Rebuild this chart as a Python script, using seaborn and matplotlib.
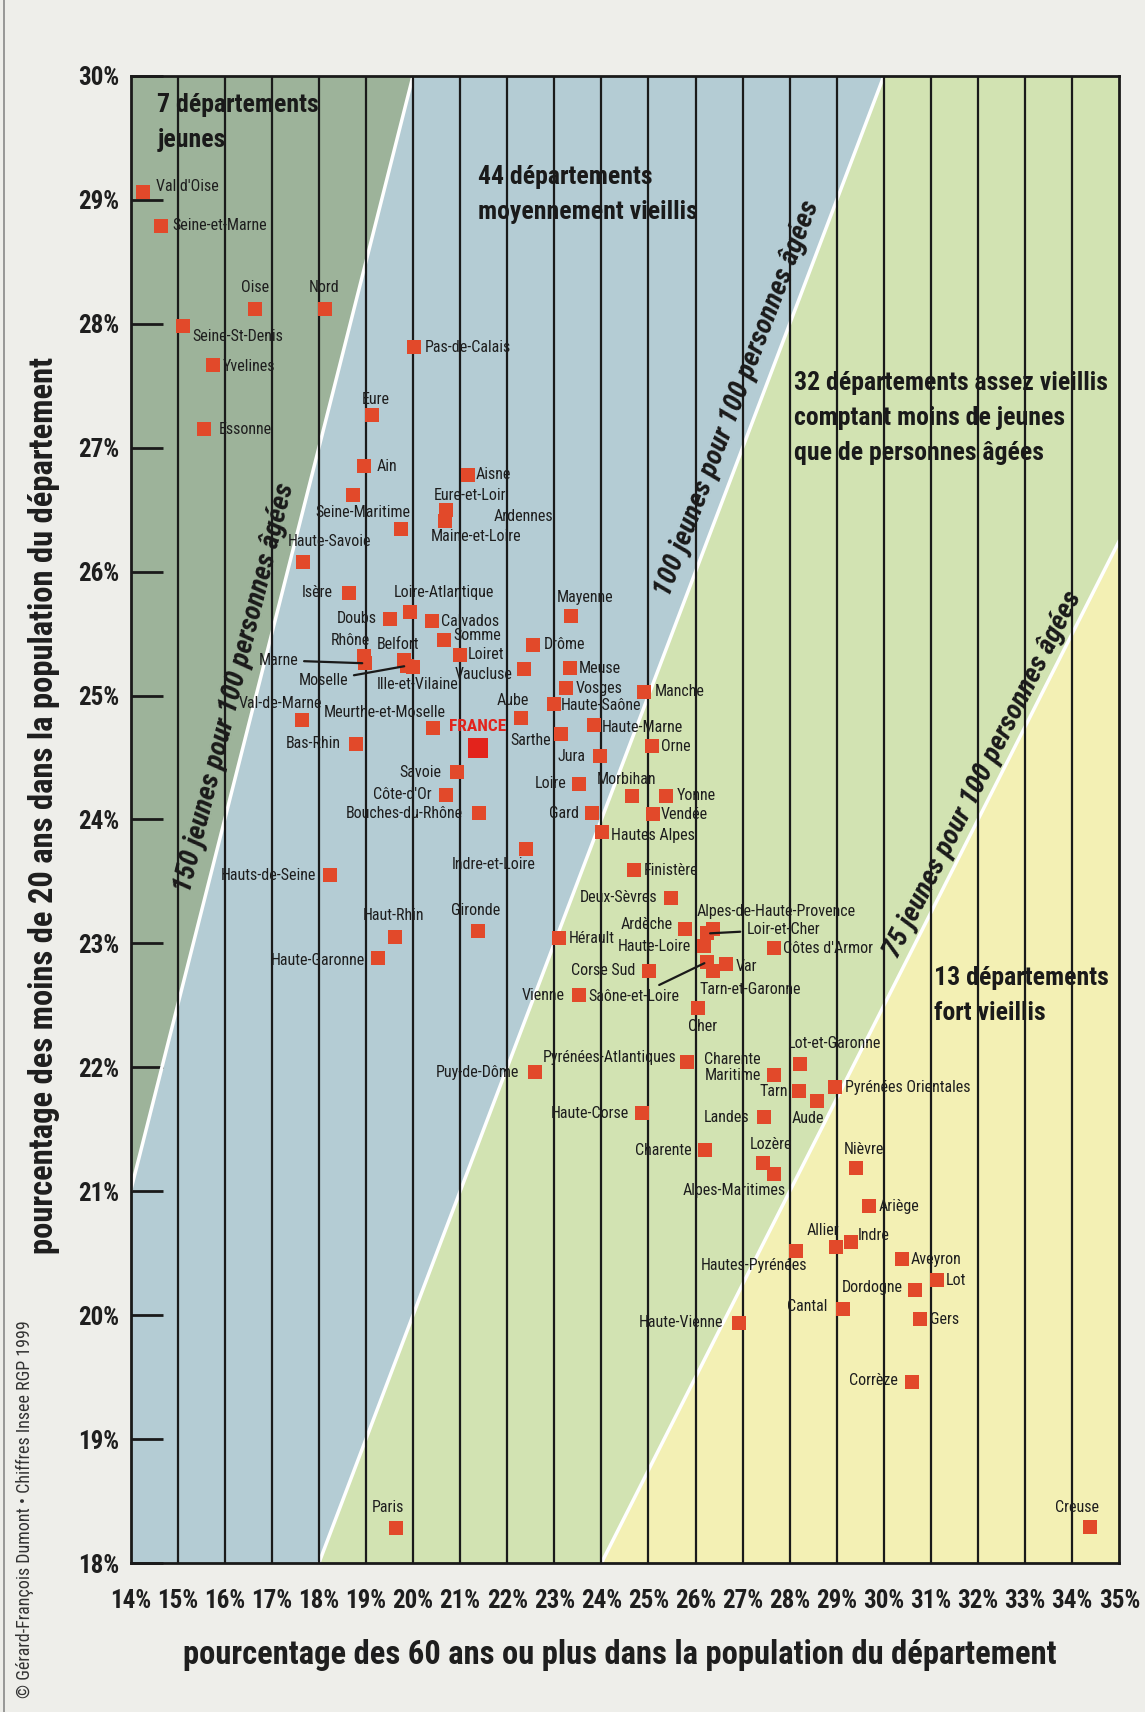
import numpy as np
import pandas as pd
import matplotlib
matplotlib.use("Agg")
import matplotlib.pyplot as plt
from matplotlib import font_manager as fm
import seaborn as sns

# names as printed next to each square
departements = [
    "Val d'Oise", "Seine-et-Marne", "Oise", "Nord", "Seine-St-Denis", "Yvelines", "Essonne",
    "Pas-de-Calais", "Eure", "Ain", "Aisne", "Seine-Maritime", "Ardennes", "Eure-et-Loir",
    "Maine-et-Loire", "Haute-Savoie", "Isère", "Loire-Atlantique", "Doubs", "Calvados", "Somme",
    "Loiret", "Rhône", "Marne", "Belfort", "Moselle", "Ille-et-Vilaine", "Vaucluse",
    "Val-de-Marne", "Meurthe-et-Moselle", "Bas-Rhin", "Savoie", "Côte-d'Or", "Bouches-du-Rhône",
    "Hauts-de-Seine", "Haut-Rhin", "Haute-Garonne", "Paris", "Mayenne", "Drôme", "Meuse",
    "Vosges", "Haute-Saône", "Aube", "Sarthe", "Haute-Marne", "Manche", "Orne", "Jura", "Loire",
    "Morbihan", "Yonne", "Gard", "Vendée", "Hautes Alpes", "Indre-et-Loire", "Finistère",
    "Deux-Sèvres", "Gironde", "Ardèche", "Alpes-de-Haute-Provence", "Loir-et-Cher",
    "Haute-Loire", "Côtes d'Armor", "Hérault", "Corse Sud", "Var", "Saône-et-Loire",
    "Tarn-et-Garonne", "Vienne", "Cher", "Puy-de-Dôme", "Pyrénées-Atlantiques",
    "Charente\nMaritime", "Lot-et-Garonne", "Tarn", "Aude", "Pyrénées Orientales", "Haute-Corse",
    "Landes", "Charente", "Lozère", "Alpes-Maritimes", "Nièvre", "Ariège", "Allier", "Indre",
    "Hautes-Pyrénées", "Aveyron", "Lot", "Dordogne", "Cantal", "Gers", "Haute-Vienne",
    "Corrèze", "Creuse",
]
# % of people aged 60 or more
pct_60_plus = [
    14.26, 14.64, 16.65, 18.12, 15.12, 15.76, 15.57,
    20.02, 19.12, 18.95, 21.16, 18.73, 19.75, 20.71,
    20.67, 17.66, 18.63, 19.94, 19.50, 20.40, 20.66,
    21.00, 18.95, 18.98, 19.80, 19.87, 20.00, 22.36,
    17.64, 20.42, 18.78, 20.93, 20.70, 21.40,
    18.23, 19.62, 19.25, 19.64, 23.36, 22.54, 23.33,
    23.25, 22.99, 22.30, 23.14, 23.84, 24.90, 25.07, 23.96, 23.53,
    24.66, 25.38, 23.80, 25.09, 24.01, 22.39, 24.69,
    25.47, 21.38, 25.77, 26.38, 26.25,
    26.17, 27.67, 23.10, 25.02, 26.65, 26.24,
    26.38, 23.52, 26.06, 22.59, 25.82,
    27.66, 28.22, 28.20, 28.58, 28.96, 24.86,
    27.45, 26.21, 27.44, 27.66, 29.40, 29.69, 28.99, 29.30,
    28.13, 30.39, 31.13, 30.67, 29.13, 30.77, 26.93,
    30.60, 34.38,
]
# % of people under 20
pct_moins_20 = [
    29.06, 28.79, 28.12, 28.12, 27.98, 27.67, 27.15,
    27.81, 27.26, 26.85, 26.78, 26.62, 26.34, 26.50,
    26.41, 26.08, 25.83, 25.67, 25.62, 25.60, 25.45,
    25.33, 25.32, 25.26, 25.29, 25.24, 25.23, 25.21,
    24.80, 24.74, 24.61, 24.38, 24.20, 24.05,
    23.55, 23.05, 22.88, 18.28, 25.64, 25.41, 25.22,
    25.06, 24.93, 24.82, 24.69, 24.76, 25.03, 24.59, 24.51, 24.29,
    24.19, 24.19, 24.05, 24.04, 23.90, 23.76, 23.59,
    23.37, 23.10, 23.12, 23.12, 23.08,
    22.98, 22.96, 23.04, 22.78, 22.83, 22.85,
    22.78, 22.58, 22.48, 21.96, 22.04,
    21.94, 22.03, 21.81, 21.73, 21.84, 21.63,
    21.60, 21.33, 21.23, 21.14, 21.19, 20.88, 20.55, 20.59,
    20.52, 20.45, 20.28, 20.20, 20.05, 19.97, 19.94,
    19.46, 18.29,
]
france_60, france_20 = 21.38, 24.58

# young people per 100 elderly -> the three dividing lines
ratios = [1.5, 1.0, 0.75]
ratio_labels = ["150 jeunes pour 100 personnes âgées",
                "100 jeunes pour 100 personnes âgées",
                "75 jeunes pour 100 personnes âgées"]
zone_labels = ["7 départements\njeunes",
               "44 départements\nmoyennement vieillis",
               "32 départements assez vieillis\ncomptant moins de jeunes\nque de personnes âgées",
               "13 départements\nfort vieillis"]

x_ticks = list(range(14, 36))
y_ticks = list(range(18, 31))

# label placement (offset in pixels from the square, horizontal alignment)
label_pos = {
    "Val d'Oise": (13, 6, "left"), "Seine-et-Marne": (12, 0, "left"), "Oise": (0, 21, "center"),
    "Nord": (0, 21, "center"), "Seine-St-Denis": (9, -10, "left"), "Yvelines": (9, -2, "left"),
    "Essonne": (14, 0, "left"), "Pas-de-Calais": (11, 0, "left"), "Eure": (4, 16, "center"),
    "Ain": (13, 0, "left"), "Aisne": (8, 0, "left"), "Seine-Maritime": (10, -18, "center"),
    "Ardennes": (92, 13, "left"), "Eure-et-Loir": (24, 14, "center"),
    "Maine-et-Loire": (31, -16, "center"), "Haute-Savoie": (27, 20, "center"),
    "Isère": (-16, 0, "right"), "Loire-Atlantique": (34, 20, "center"), "Doubs": (-13, 0, "right"),
    "Calvados": (9, 0, "left"), "Somme": (9, 4, "left"), "Loiret": (8, 0, "left"),
    "Rhône": (-13, 15, "center"), "Marne": (-67, 3, "right"), "Belfort": (-6, 15, "center"),
    "Moselle": (-59, -15, "right"), "Ille-et-Vilaine": (5, -17, "center"),
    "Vaucluse": (-12, -5, "right"), "Val-de-Marne": (-22, 17, "center"),
    "Meurthe-et-Moselle": (-48, 15, "center"), "Bas-Rhin": (-15, 0, "right"),
    "Savoie": (-15, 0, "right"), "Côte-d'Or": (-14, 0, "right"),
    "Bouches-du-Rhône": (-16, 0, "right"), "Hauts-de-Seine": (-14, 0, "right"),
    "Haut-Rhin": (-2, 22, "center"), "Haute-Garonne": (-13, -2, "right"), "Paris": (-8, 21, "center"),
    "Mayenne": (14, 19, "center"), "Drôme": (11, 0, "left"), "Meuse": (9, 0, "left"),
    "Vosges": (10, 0, "left"), "Haute-Saône": (7, -1, "left"), "Aube": (-9, 17, "center"),
    "Sarthe": (-10, -7, "right"), "Haute-Marne": (8, -2, "left"), "Manche": (11, 0, "left"),
    "Orne": (9, 0, "left"), "Jura": (-14, 0, "right"), "Loire": (-13, 0, "right"),
    "Morbihan": (-6, 16, "center"), "Yonne": (10, 0, "left"), "Gard": (-13, 0, "right"),
    "Vendée": (8, 0, "left"), "Hautes Alpes": (9, -4, "left"),
    "Indre-et-Loire": (-32, -15, "center"), "Finistère": (10, 0, "left"),
    "Deux-Sèvres": (-13, 0, "right"), "Gironde": (-2, 20, "center"), "Ardèche": (-12, 4, "right"),
    "Alpes-de-Haute-Provence": (63, 17, "center"), "Loir-et-Cher": (39, 4, "left"),
    "Haute-Loire": (-13, -1, "right"), "Côtes d'Armor": (9, 0, "left"), "Hérault": (10, 0, "left"),
    "Corse Sud": (-14, 0, "right"), "Var": (9, -2, "left"), "Saône-et-Loire": (-27, -35, "right"),
    "Tarn-et-Garonne": (37, -19, "center"), "Vienne": (-14, 0, "right"), "Cher": (4, -19, "center"),
    "Puy-de-Dôme": (-16, 0, "right"), "Pyrénées-Atlantiques": (-11, 5, "right"),
    "Charente\nMaritime": (-13, 7, "right"), "Lot-et-Garonne": (34, 20, "center"),
    "Tarn": (-11, -1, "right"), "Aude": (-9, -18, "center"), "Pyrénées Orientales": (10, 0, "left"),
    "Haute-Corse": (-13, 0, "right"), "Landes": (-14, -1, "right"), "Charente": (-14, 0, "right"),
    "Lozère": (8, 18, "center"), "Alpes-Maritimes": (-40, -17, "center"), "Nièvre": (8, 18, "center"),
    "Ariège": (9, 0, "left"), "Allier": (-13, 17, "center"), "Indre": (7, 7, "left"),
    "Hautes-Pyrénées": (-42, -15, "center"), "Aveyron": (8, 0, "left"), "Lot": (9, 0, "left"),
    "Dordogne": (-13, 3, "right"), "Cantal": (-16, 2, "right"), "Gers": (10, -1, "left"),
    "Haute-Vienne": (-16, 0, "right"), "Corrèze": (-14, 2, "right"), "Creuse": (-13, 20, "center"),
}
# these ones get a small leader line in the original
leader = ["Marne", "Moselle", "Loir-et-Cher", "Saône-et-Loire"]

sns.set_theme(style="white")

# the original uses a condensed type; take a narrow face if one is installed
fonts = fm.fontManager.ttflist
narrow = [f.name for f in fonts
          if "narrow" in f.name.lower() or "condensed" in f.name.lower()
          or f.stretch in ("condensed", "semi-condensed", "extra-condensed", 500 - 125, 300)]
if narrow:
    family = narrow[0]
    pref = [n for n in ["Liberation Sans Narrow", "Roboto Condensed", "Noto Sans Condensed",
                        "DejaVu Sans Condensed", "Noto Sans", "DejaVu Sans"] if n in narrow]
    if pref:
        family = pref[0]
    plt.rcParams['font.stretch'] = 'condensed'
    k = 1.0
else:
    family = "Roboto"
    k = 0.86
plt.rcParams['font.family'] = [family, 'DejaVu Sans']

page = "#eeeeea"
zone_colors = ["#9db39a", "#b4ccd4", "#d2e3b2", "#f3f0b4"]
red = "#e2492a"

df = pd.DataFrame({"nom": departements, "pct_60": pct_60_plus, "pct_20": pct_moins_20})

fig = plt.figure(figsize=(11.45, 17.12), dpi=100, facecolor=page)
ax = fig.add_axes([0.1140, 0.0870, 0.8636, 0.8687])

# background zones between the ratio lines
xs = np.linspace(14, 35, 200)
bounds = [np.full_like(xs, 40)] + [r * xs for r in ratios] + [np.full_like(xs, 10)]
for i, c in enumerate(zone_colors):
    ax.fill_between(xs, bounds[i + 1], bounds[i], color=c, lw=0, zorder=0)
for r in ratios:
    ax.plot(xs, r * xs, color="white", lw=2.5, zorder=1)

for v in x_ticks[1:-1]:
    ax.axvline(v, color="#1a1a1a", lw=1.6, zorder=1)

sns.scatterplot(data=df, x="pct_60", y="pct_20", marker="s", s=95, color=red,
                linewidth=0, ax=ax, zorder=3, legend=False)
ax.scatter([france_60], [france_20], marker="s", s=190, color="#e3231c", lw=0, zorder=3)

for nom, x, y in zip(departements, pct_60_plus, pct_moins_20):
    dx, dy, ha = label_pos[nom]
    arrow = None
    if nom in leader:
        arrow = dict(arrowstyle="-", color="#1a1a1a", lw=1.6, shrinkA=2, shrinkB=2)
    ax.annotate(nom, xy=(x, y), xytext=(dx, dy), textcoords="offset pixels",
                ha=ha, va="center", fontsize=11.5 * k, color="#1e1e1e", linespacing=1.05,
                arrowprops=arrow, zorder=4)
ax.annotate("FRANCE", xy=(france_60, france_20), xytext=(0, 21), textcoords="offset pixels",
            ha="center", va="center", fontsize=12.5 * k, fontweight="bold", color="#e3231c", zorder=4)

# zone titles
zone_xy = [(14.57, 29.86), (21.38, 29.28), (28.10, 27.62), (31.07, 22.82)]
for (zx, zy), txt in zip(zone_xy, zone_labels):
    ax.text(zx, zy, txt, ha="left", va="top", fontsize=18.5 * k, fontweight="bold",
            color="#1a1a1a", linespacing=1.58, zorder=4)

# rotated labels along the ratio lines
ratio_xy = [(16.21, 25.06), (26.88, 27.40), (32.10, 24.36)]
for (rx, ry), r, txt in zip(ratio_xy, ratios, ratio_labels):
    ax.text(rx, ry, txt, ha="center", va="center", fontsize=20.5 * k, fontweight="bold",
            fontstyle="italic", color="#1a1a1a", rotation=np.degrees(np.arctan(r)),
            rotation_mode="anchor", transform_rotates_text=True, zorder=4)

ax.set_xlim(14, 35)
ax.set_ylim(18, 30)
ax.set_xticks(x_ticks)
ax.set_xticklabels([f"{v}%" for v in x_ticks])
ax.set_yticks(y_ticks)
ax.set_yticklabels([f"{v}%" for v in y_ticks])
ax.tick_params(axis="y", direction="in", length=23, width=2, color="#1a1a1a",
               labelsize=18 * k, pad=8, left=True)
ax.tick_params(axis="x", length=0, labelsize=18 * k, pad=19)
for lab in ax.get_xticklabels() + ax.get_yticklabels():
    lab.set_fontweight("bold")
    lab.set_color("#1e1e1e")
for sp in ax.spines.values():
    sp.set_color("#1a1a1a")
    sp.set_linewidth(2)
ax.set_xlabel("")
ax.set_ylabel("")

fig.text(0.5 * (183 + 1057) / 1145, 1 - 1655 / 1712,
         "pourcentage des 60 ans ou plus dans la population du département",
         ha="center", va="center", fontsize=23.5 * k, fontweight="bold", color="#1e1e1e")
fig.text(44 / 1145, 1 - 805 / 1712,
         "pourcentage des moins de 20 ans dans la population du département",
         ha="center", va="center", rotation=90, fontsize=23.5 * k, fontweight="bold", color="#1e1e1e")
fig.text(25 / 1145, 1 - 1509 / 1712, "© Gérard-François Dumont • Chiffres Insee RGP 1999",
         ha="center", va="center", rotation=90, fontsize=13 * k, color="#333333")
fig.add_artist(plt.Line2D([4 / 1145, 4 / 1145], [0, 1], color="#888888", lw=1.2))

fig.savefig("out.png", dpi=100, facecolor=page)
